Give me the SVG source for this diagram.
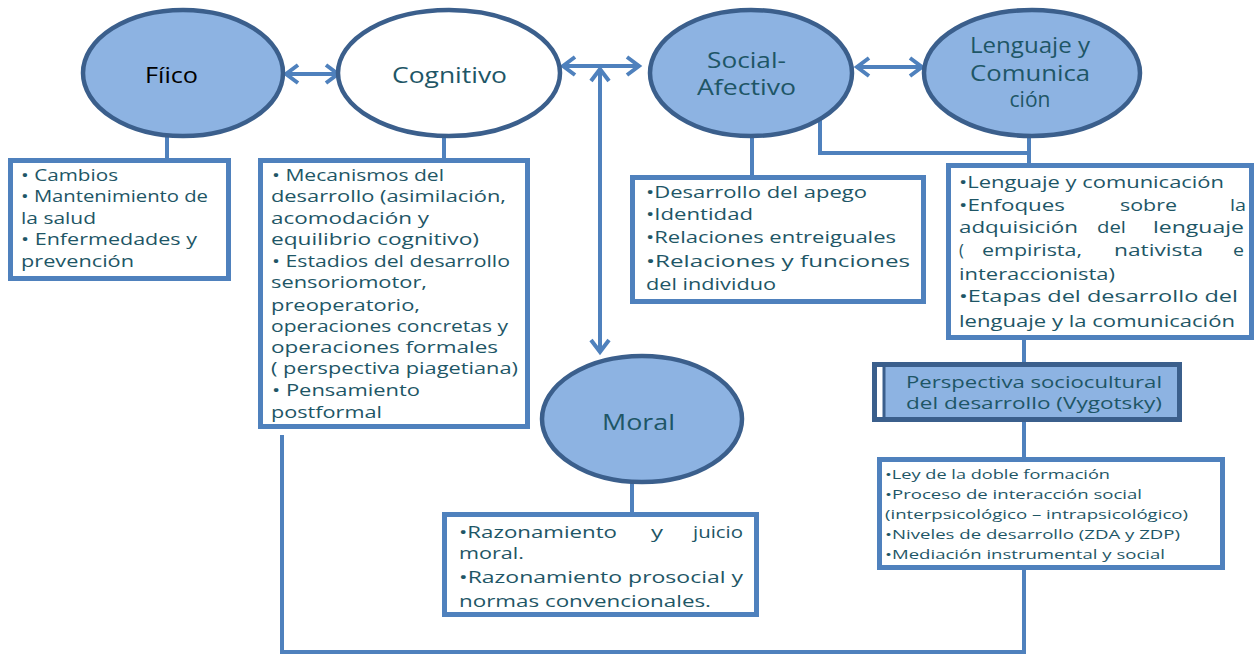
<svg xmlns="http://www.w3.org/2000/svg" width="1255" height="656" viewBox="0 0 1255 656">
<style>
.ell{fill:#8db3e2;stroke:#3b5f8c;stroke-width:4.5}
.ellw{fill:#ffffff;stroke:#3b5f8c;stroke-width:4.5}
.box{fill:#ffffff;stroke:#4f81bd;stroke-width:5}
.ln{fill:none;stroke:#4f81bd;stroke-width:4}
.t{font-family:"Open Sans","Liberation Sans",sans-serif;font-size:16.5px;fill:#1e5666}
.s{font-family:"Open Sans","Liberation Sans",sans-serif;font-size:13px;fill:#1e5666}
.h{font-family:"Open Sans","Liberation Sans",sans-serif;font-size:21px;fill:#1e5666}
</style>
<defs>
<marker id="ah" markerUnits="userSpaceOnUse" markerWidth="20" markerHeight="24" refX="14" refY="10" orient="auto-start-reverse" viewBox="0 0 20 20" overflow="visible">
<path d="M2,1 L14,10 L2,19" fill="none" stroke="#4f81bd" stroke-width="4"/>
</marker>
</defs>
<rect width="1255" height="656" fill="#ffffff"/>
<g id="connectors">
<line class="ln" x1="286" y1="74" x2="338" y2="74" marker-start="url(#ah)" marker-end="url(#ah)"/>
<line class="ln" x1="563" y1="66" x2="639" y2="66" marker-start="url(#ah)" marker-end="url(#ah)"/>
<line class="ln" x1="857" y1="67" x2="922" y2="67" marker-start="url(#ah)" marker-end="url(#ah)"/>
<line class="ln" x1="600" y1="69" x2="600" y2="352" marker-start="url(#ah)" marker-end="url(#ah)"/>
<path class="ln" d="M167,137 V158"/>
<path class="ln" d="M444,137 V158"/>
<path class="ln" d="M752,137 V175"/>
<path class="ln" d="M820,116 V153 H1029"/>
<path class="ln" d="M1029,137 V163"/>
<path class="ln" d="M1024,340 V363"/>
<path class="ln" d="M1024,422 V457"/>
<path class="ln" d="M632,483 V512"/>
<path class="ln" d="M282,435 V652 H1024 V570"/>
</g>
<g id="fisico">
<ellipse class="ell" cx="183" cy="73" rx="100" ry="63"/>
<text x="145" y="83" font-family="Open Sans, Liberation Sans, sans-serif" font-size="21" fill="#000000" textLength="53" lengthAdjust="spacingAndGlyphs">Fíico</text>
</g>
<g id="cognitivo">
<ellipse class="ellw" cx="449" cy="73" rx="111" ry="63"/>
<text class="h" x="392" y="83" textLength="115" lengthAdjust="spacingAndGlyphs">Cognitivo</text>
</g>
<g id="social">
<ellipse class="ell" cx="751" cy="73" rx="101" ry="63"/>
<text class="h" x="707" y="68" textLength="79" lengthAdjust="spacingAndGlyphs">Social-</text>
<text class="h" x="697" y="95" textLength="99" lengthAdjust="spacingAndGlyphs">Afectivo</text>
</g>
<g id="lenguaje">
<ellipse class="ell" cx="1032" cy="73" rx="108" ry="63"/>
<text class="h" x="970" y="53" textLength="120" lengthAdjust="spacingAndGlyphs">Lenguaje y</text>
<text class="h" x="970" y="81" textLength="120" lengthAdjust="spacingAndGlyphs">Comunica</text>
<text class="h" x="1030" y="107" text-anchor="middle">ción</text>
</g>
<g id="moral">
<ellipse class="ell" cx="642" cy="419" rx="100" ry="63"/>
<text class="h" x="602" y="430" textLength="73" lengthAdjust="spacingAndGlyphs">Moral</text>
</g>
<g id="fisico-box">
<rect class="box" x="10.5" y="160.5" width="218" height="118"/>
<text class="t" x="21" y="181" textLength="97" lengthAdjust="spacingAndGlyphs">• Cambios</text>
<text class="t" x="21" y="202" textLength="187" lengthAdjust="spacingAndGlyphs">• Mantenimiento de</text>
<text class="t" x="21" y="224" textLength="75" lengthAdjust="spacingAndGlyphs">la salud</text>
<text class="t" x="21" y="245" textLength="176" lengthAdjust="spacingAndGlyphs">• Enfermedades y</text>
<text class="t" x="21" y="267" textLength="113" lengthAdjust="spacingAndGlyphs">prevención</text>
</g>
<g id="cognitivo-box">
<rect class="box" x="260.5" y="160.5" width="267" height="266"/>
<text class="t" x="272" y="181" textLength="172" lengthAdjust="spacingAndGlyphs">• Mecanismos del</text>
<text class="t" x="271" y="202" textLength="235" lengthAdjust="spacingAndGlyphs">desarrollo (asimilación,</text>
<text class="t" x="271" y="224" textLength="158" lengthAdjust="spacingAndGlyphs">acomodación y</text>
<text class="t" x="271" y="245" textLength="208" lengthAdjust="spacingAndGlyphs">equilibrio cognitivo)</text>
<text class="t" x="272" y="267" textLength="238" lengthAdjust="spacingAndGlyphs">• Estadios del desarrollo</text>
<text class="t" x="271" y="288" textLength="156" lengthAdjust="spacingAndGlyphs">sensoriomotor,</text>
<text class="t" x="271" y="311" textLength="149" lengthAdjust="spacingAndGlyphs">preoperatorio,</text>
<text class="t" x="271" y="332" textLength="237" lengthAdjust="spacingAndGlyphs">operaciones concretas y</text>
<text class="t" x="271" y="353" textLength="227" lengthAdjust="spacingAndGlyphs">operaciones formales</text>
<text class="t" x="271" y="374" textLength="247" lengthAdjust="spacingAndGlyphs">( perspectiva piagetiana)</text>
<text class="t" x="272" y="396" textLength="148" lengthAdjust="spacingAndGlyphs">• Pensamiento</text>
<text class="t" x="271" y="418" textLength="111" lengthAdjust="spacingAndGlyphs">postformal</text>
</g>
<g id="social-box">
<rect class="box" x="632.5" y="177.5" width="291" height="124"/>
<text class="t" x="646" y="198" textLength="221" lengthAdjust="spacingAndGlyphs">•Desarrollo del apego</text>
<text class="t" x="646" y="220" textLength="107" lengthAdjust="spacingAndGlyphs">•Identidad</text>
<text class="t" x="646" y="243" textLength="250" lengthAdjust="spacingAndGlyphs">•Relaciones entreiguales</text>
<text class="t" x="646" y="267" textLength="264" lengthAdjust="spacingAndGlyphs">•Relaciones  y  funciones</text>
<text class="t" x="646" y="290" textLength="130" lengthAdjust="spacingAndGlyphs">del individuo</text>
</g>
<g id="lenguaje-box">
<rect class="box" x="948.5" y="165.5" width="303" height="172"/>
<text class="t" x="959" y="188" textLength="265" lengthAdjust="spacingAndGlyphs">•Lenguaje y comunicación</text>
<text class="t" x="959" y="211" textLength="106" lengthAdjust="spacingAndGlyphs">•Enfoques</text>
<text class="t" x="1120" y="211" textLength="57" lengthAdjust="spacingAndGlyphs">sobre</text>
<text class="t" x="1230" y="211" textLength="16" lengthAdjust="spacingAndGlyphs">la</text>
<text class="t" x="959" y="233" textLength="119" lengthAdjust="spacingAndGlyphs">adquisición</text>
<text class="t" x="1097" y="233" textLength="29" lengthAdjust="spacingAndGlyphs">del</text>
<text class="t" x="1153" y="233" textLength="91" lengthAdjust="spacingAndGlyphs">lenguaje</text>
<text class="t" x="959" y="256">(</text>
<text class="t" x="982" y="256" textLength="100" lengthAdjust="spacingAndGlyphs">empirista,</text>
<text class="t" x="1114" y="256" textLength="89" lengthAdjust="spacingAndGlyphs">nativista</text>
<text class="t" x="1233" y="256" textLength="11" lengthAdjust="spacingAndGlyphs">e</text>
<text class="t" x="959" y="280" textLength="156" lengthAdjust="spacingAndGlyphs">interaccionista)</text>
<text class="t" x="959" y="302" textLength="279" lengthAdjust="spacingAndGlyphs">•Etapas del desarrollo del</text>
<text class="t" x="959" y="327" textLength="276" lengthAdjust="spacingAndGlyphs">lenguaje y la comunicación</text>
</g>
<g id="vygotsky">
<rect x="874.5" y="364.5" width="305" height="55" fill="#ffffff" stroke="#3b5f8c" stroke-width="5"/>
<rect x="885" y="367" width="292" height="50" fill="#8db3e2"/>
<line x1="884" y1="365" x2="884" y2="419" stroke="#3b5f8c" stroke-width="3"/>
<text class="t" x="1034" y="388" text-anchor="middle" textLength="256" lengthAdjust="spacingAndGlyphs">Perspectiva sociocultural</text>
<text class="t" x="1034" y="409" text-anchor="middle" textLength="256" lengthAdjust="spacingAndGlyphs">del desarrollo (Vygotsky)</text>
</g>
<g id="vygotsky-box">
<rect class="box" x="879.5" y="459.5" width="343" height="108" stroke-width="4.5"/>
<text class="s" x="885" y="479" textLength="225" lengthAdjust="spacingAndGlyphs">•Ley de la doble formación</text>
<text class="s" x="885" y="499" textLength="257" lengthAdjust="spacingAndGlyphs">•Proceso de  interacción social</text>
<text class="s" x="885" y="519" textLength="303" lengthAdjust="spacingAndGlyphs">(interpsicológico  – intrapsicológico)</text>
<text class="s" x="885" y="539" textLength="295" lengthAdjust="spacingAndGlyphs">•Niveles de desarrollo (ZDA  y ZDP)</text>
<text class="s" x="885" y="559" textLength="280" lengthAdjust="spacingAndGlyphs">•Mediación  instrumental  y social</text>
</g>
<g id="moral-box">
<rect class="box" x="444.5" y="514.5" width="312" height="100"/>
<text class="t" x="459" y="538" textLength="158" lengthAdjust="spacingAndGlyphs">•Razonamiento</text>
<text class="t" x="651" y="538" textLength="12" lengthAdjust="spacingAndGlyphs">y</text>
<text class="t" x="693" y="538" textLength="50" lengthAdjust="spacingAndGlyphs">juicio</text>
<text class="t" x="459" y="559" textLength="65" lengthAdjust="spacingAndGlyphs">moral.</text>
<text class="t" x="459" y="583" textLength="284" lengthAdjust="spacingAndGlyphs">•Razonamiento prosocial y</text>
<text class="t" x="459" y="607" textLength="252" lengthAdjust="spacingAndGlyphs">normas convencionales.</text>
</g>
</svg>
